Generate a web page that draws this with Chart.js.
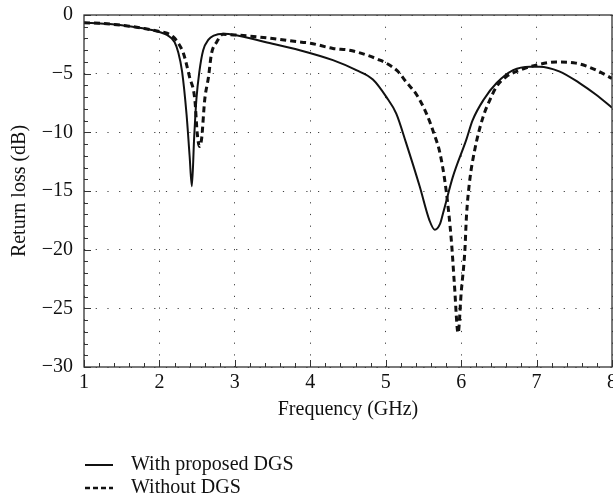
<!DOCTYPE html>
<html>
<head>
<meta charset="utf-8">
<style>
  html, body { margin: 0; padding: 0; background: #fff; }
  #wrap { width: 613px; height: 502px; }
</style>
<script src="https://cdn.jsdelivr.net/npm/chart.js@4/dist/chart.umd.min.js"></script>
</head>
<body>
<div id="wrap"><canvas id="rlChart" width="613" height="502"></canvas></div>
<script>
// Return loss curves (GHz, dB)
var freqWith = [1.0, 1.3, 1.6, 1.8, 2.0, 2.1, 2.2, 2.25, 2.3, 2.36, 2.4, 2.43, 2.46, 2.49, 2.53, 2.58, 2.65, 2.72, 2.85, 3.0, 3.4, 3.86, 4.3, 4.61, 4.83, 5.01, 5.14, 5.27, 5.45, 5.58, 5.65, 5.72, 5.76, 5.89, 6.07, 6.15, 6.3, 6.47, 6.69, 6.91, 7.04, 7.3, 7.57, 7.79, 8.0];
var lossWith = [-0.65, -0.75, -0.95, -1.15, -1.45, -1.7, -2.3, -3.2, -4.8, -8.5, -12, -14.6, -10.5, -7.2, -4.8, -3.0, -2.1, -1.75, -1.6, -1.7, -2.3, -3.0, -3.85, -4.7, -5.5, -7.0, -8.4, -10.9, -14.6, -17.5, -18.3, -17.8, -16.9, -13.8, -10.6, -9.0, -7.2, -5.8, -4.7, -4.4, -4.4, -4.8, -5.8, -6.8, -7.9];

var freqWithout = [1.0, 1.3, 1.6, 1.8, 2.0, 2.1, 2.18, 2.25, 2.32, 2.4, 2.47, 2.5, 2.53, 2.56, 2.6, 2.65, 2.69, 2.76, 2.84, 3.0, 3.5, 3.86, 4.0, 4.3, 4.52, 4.74, 4.92, 5.05, 5.16, 5.27, 5.41, 5.54, 5.65, 5.72, 5.8, 5.87, 5.91, 5.96, 6.0, 6.05, 6.07, 6.11, 6.18, 6.29, 6.38, 6.47, 6.6, 6.78, 7.0, 7.26, 7.52, 7.79, 8.0];
var lossWithout = [-0.65, -0.75, -0.95, -1.15, -1.4, -1.55, -1.85, -2.4, -3.3, -5.3, -7.25, -10.0, -11.2, -10.5, -7.25, -5.3, -3.3, -2.3, -1.65, -1.7, -2.0, -2.3, -2.4, -2.85, -3.0, -3.4, -3.84, -4.26, -4.8, -5.7, -6.8, -8.4, -10.3, -11.8, -14.9, -19.2, -22.9, -27.1, -23.7, -20.0, -17.2, -14.3, -11.5, -8.7, -7.25, -6.1, -5.25, -4.7, -4.26, -4.0, -4.1, -4.7, -5.4];

var seriesNames = ['With proposed DGS', 'Without DGS'];
var xTicks = [1, 2, 3, 4, 5, 6, 7, 8];
var yTicks = [-30, -25, -20, -15, -10, -5, 0];

(function () {
  var FONT = "'Liberation Serif', 'Times New Roman', serif";
  var INK = '#111';

  function toPoints(xs, ys) {
    return xs.map(function (x, i) { return { x: x, y: ys[i] }; });
  }

  // frame, inward ticks and the legend underneath
  var framePlugin = {
    id: 'frame',
    afterDraw: function (chart) {
      var ctx = chart.ctx;
      var a = chart.chartArea;
      var xs = chart.scales.x, ys = chart.scales.y;
      ctx.save();
      ctx.strokeStyle = '#333';
      ctx.lineWidth = 1.3;
      ctx.strokeRect(a.left, a.top, a.right - a.left, a.bottom - a.top);

      ctx.lineWidth = 1;
      ctx.beginPath();
      var i, v, p, len;
      for (i = 0; i <= 35; i++) {
        v = 1 + i * 0.2;
        p = Math.round(xs.getPixelForValue(v)) + 0.5;
        len = (i % 5 === 0) ? 7 : 4;
        ctx.moveTo(p, a.bottom);
        ctx.lineTo(p, a.bottom - len);
      }
      for (i = 0; i <= 30; i++) {
        v = -30 + i;
        p = Math.round(ys.getPixelForValue(v)) + 0.5;
        len = (i % 5 === 0) ? 7 : 4;
        ctx.moveTo(a.left, p);
        ctx.lineTo(a.left + len, p);
      }
      ctx.stroke();

      // legend
      ctx.font = '20px ' + FONT;
      ctx.textBaseline = 'middle';
      ctx.textAlign = 'left';
      chart.data.datasets.forEach(function (ds, k) {
        var y = 465 + k * 23;
        ctx.strokeStyle = INK;
        ctx.lineWidth = k === 0 ? 2 : 2.6;
        ctx.setLineDash(k === 0 ? [] : [5, 3]);
        ctx.beginPath();
        ctx.moveTo(85, y);
        ctx.lineTo(113, y);
        ctx.stroke();
        ctx.setLineDash([]);
        ctx.fillStyle = INK;
        ctx.fillText(ds.label, 131, y);
      });
      ctx.restore();
    }
  };

  new Chart(document.getElementById('rlChart'), {
    type: 'line',
    data: {
      datasets: [{
        label: seriesNames[0],
        data: toPoints(freqWith, lossWith),
        borderColor: INK,
        borderWidth: 2,
        pointRadius: 0,
        cubicInterpolationMode: 'monotone',
        fill: false
      }, {
        label: seriesNames[1],
        data: toPoints(freqWithout, lossWithout),
        borderColor: INK,
        borderWidth: 3,
        borderDash: [6, 4],
        pointRadius: 0,
        cubicInterpolationMode: 'monotone',
        fill: false
      }]
    },
    options: {
      responsive: false,
      animation: false,
      events: [],
      layout: { padding: { top: 15, right: 1, bottom: 80, left: 0 } },
      plugins: { legend: { display: false }, tooltip: { enabled: false } },
      scales: {
        x: {
          type: 'linear',
          min: 1, max: 8,
          afterBuildTicks: function (s) { s.ticks = xTicks.map(function (v) { return { value: v }; }); },
          afterFit: function (s) { s.height = 55; s.paddingLeft = 0; s.paddingRight = 0; },
          grid: { drawTicks: false, color: 'rgba(0,0,0,0.75)', lineWidth: 1 },
          border: { display: false, dash: [1.2, 10.5] },
          ticks: { padding: 4, maxRotation: 0, autoSkip: false, color: INK, font: { family: FONT, size: 20 } },
          title: { display: true, text: 'Frequency (GHz)', color: INK, padding: { top: 0, bottom: 0 }, font: { family: FONT, size: 20, lineHeight: 1.2 } }
        },
        y: {
          type: 'linear',
          min: -30, max: 0,
          afterBuildTicks: function (s) { s.ticks = yTicks.map(function (v) { return { value: v }; }); },
          afterFit: function (s) { s.width = 84; s.paddingTop = 0; s.paddingBottom = 0; },
          grid: { drawTicks: false, color: 'rgba(0,0,0,0.75)', lineWidth: 1 },
          border: { display: false, dash: [1.2, 10.5] },
          ticks: {
            padding: 11, autoSkip: false, color: INK, font: { family: FONT, size: 20 },
            callback: function (v) { return String(v).replace('-', '\u2212'); }
          },
          title: { display: true, text: 'Return loss (dB)', color: INK, padding: { top: 8, bottom: 0 }, font: { family: FONT, size: 20, lineHeight: 1.2 } }
        }
      }
    },
    plugins: [framePlugin]
  });
})();
</script>
</body>
</html>
